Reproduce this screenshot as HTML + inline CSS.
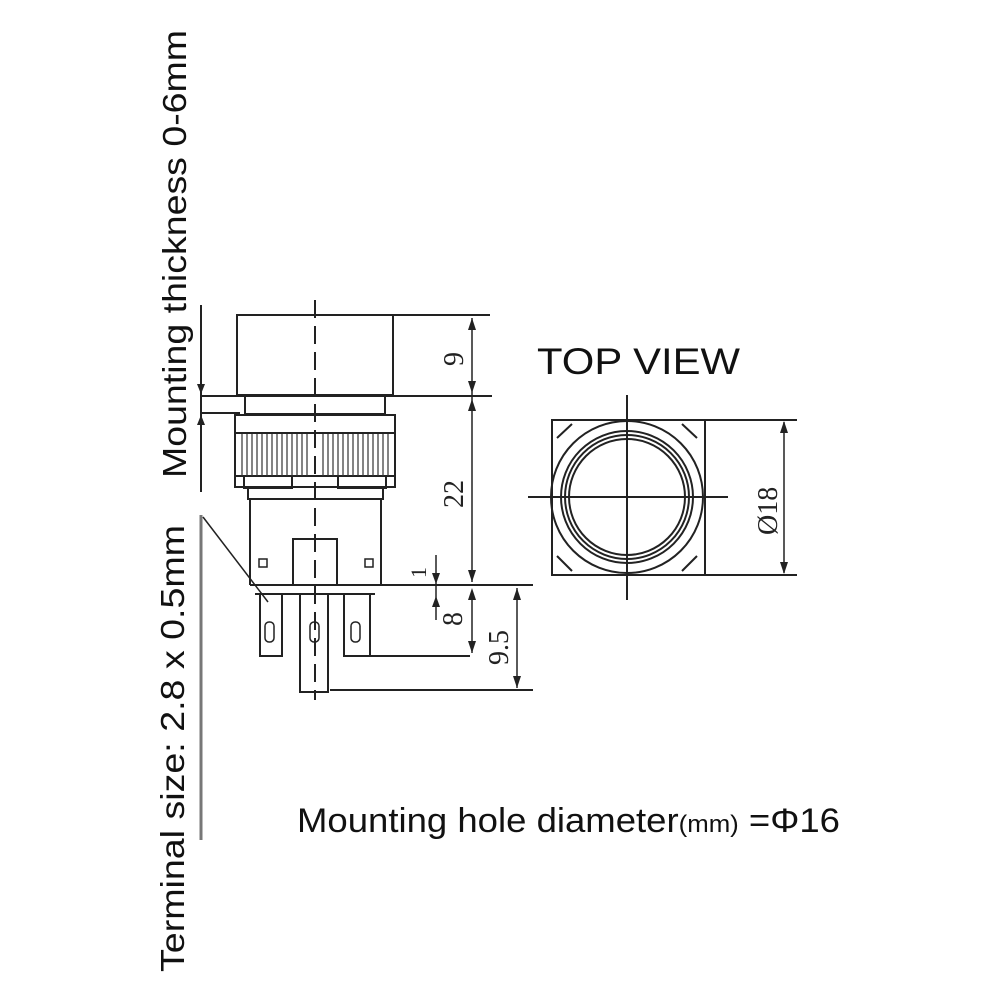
<!DOCTYPE html>
<html><head><style>html,body{margin:0;padding:0;background:#fff;}svg{display:block}</style></head>
<body>
<svg width="1000" height="1000" viewBox="0 0 1000 1000" xmlns="http://www.w3.org/2000/svg" font-family="Liberation Sans, sans-serif">
<rect width="1000" height="1000" fill="#fff"/>
<text transform="translate(186,478) rotate(-90)" font-size="33" textLength="448" lengthAdjust="spacingAndGlyphs" fill="#111">Mounting thickness 0-6mm</text>
<text transform="translate(184,972) rotate(-90)" font-size="33" textLength="447" lengthAdjust="spacingAndGlyphs" fill="#111">Terminal size: 2.8 x 0.5mm</text>
<g stroke="#222" stroke-width="2" fill="none">
<line x1="201" y1="305" x2="201" y2="492"/>
<line x1="200" y1="396" x2="240" y2="396"/>
<line x1="200" y1="413" x2="240" y2="413"/>
<line x1="201" y1="515" x2="201" y2="840" stroke="#777" stroke-width="3"/>
<line x1="203" y1="517" x2="268" y2="602" stroke-width="1.5"/>
<rect x="237" y="315" width="156" height="80"/>
<line x1="393" y1="315" x2="490" y2="315"/>
<line x1="240" y1="396" x2="492" y2="396"/>
<rect x="245" y="396" width="140" height="18"/>
<rect x="235" y="415" width="160" height="72"/>
<line x1="235" y1="433" x2="395" y2="433"/>
<line x1="235" y1="476" x2="395" y2="476"/>
<rect x="244" y="476" width="48" height="12"/>
<rect x="338" y="476" width="48" height="12"/>
<rect x="248" y="487" width="135" height="12"/>
<line x1="250" y1="499" x2="250" y2="585"/>
<line x1="381" y1="499" x2="381" y2="585"/>
<rect x="293" y="539" width="44" height="46"/>
<rect x="259" y="559" width="8" height="8" stroke-width="1.5"/>
<rect x="365" y="559" width="8" height="8" stroke-width="1.5"/>
<line x1="250" y1="585" x2="533" y2="585"/>
<line x1="255" y1="594" x2="375" y2="594"/>
<rect x="260" y="594" width="22" height="62"/>
<rect x="344" y="594" width="26" height="62"/>
<rect x="300" y="594" width="28" height="98"/>
<line x1="355" y1="656" x2="470" y2="656"/>
<line x1="330" y1="690" x2="533" y2="690"/>
<rect x="265" y="622" width="9" height="20" rx="4" stroke-width="1.5"/>
<rect x="351" y="622" width="9" height="20" rx="4" stroke-width="1.5"/>
<rect x="310" y="622" width="9" height="20" rx="4" stroke-width="1.5"/>
<line x1="315" y1="300" x2="315" y2="700" stroke-dasharray="18,8"/>
<line x1="472" y1="318" x2="472" y2="582" stroke-width="1.5"/>
<line x1="436" y1="555" x2="436" y2="620" stroke-width="1.5"/>
<line x1="517" y1="588" x2="517" y2="688" stroke-width="1.5"/>
</g>
<g stroke="#333" stroke-width="1.2">
<path d="M242 434V476M247 434V476M252 434V476M257 434V476M262 434V476M267 434V476M272 434V476M277 434V476M282 434V476M287 434V476M292 434V476M297 434V476M302 434V476M307 434V476M323 434V476M328 434V476M333 434V476M338 434V476M343 434V476M348 434V476M353 434V476M358 434V476M363 434V476M368 434V476M373 434V476M378 434V476M383 434V476M388 434V476"/>
</g>
<g fill="#222">
<polygon points="472,318 468,330 476,330"/><polygon points="472,393 468,381 476,381"/>
<polygon points="472,399 468,411 476,411"/><polygon points="472,582 468,570 476,570"/>
<polygon points="472,588 468,600 476,600"/><polygon points="472,653 468,641 476,641"/>
<polygon points="517,588 513,600 521,600"/><polygon points="517,688 513,676 521,676"/>
<polygon points="436,584 432,573 440,573"/><polygon points="436,596 432,607 440,607"/>
<polygon points="201,394 197,384 205,384"/><polygon points="201,415 197,425 205,425"/>
</g>
<line x1="472" y1="599" x2="472" y2="653" stroke="#222" stroke-width="1.5"/>
<g font-family="Liberation Serif, serif" font-size="28" fill="#222">
<text transform="translate(463,366) rotate(-90)">9</text>
<text transform="translate(463,508) rotate(-90)">22</text>
<text transform="translate(426,578) rotate(-90)" font-size="22">1</text>
<text transform="translate(462,626) rotate(-90)">8</text>
<text transform="translate(508,665) rotate(-90)">9.5</text>
<text transform="translate(777,535) rotate(-90)">Ø18</text>
</g>
<text x="537" y="374" font-size="37" textLength="203" lengthAdjust="spacingAndGlyphs" fill="#111">TOP VIEW</text>
<g stroke="#222" stroke-width="2" fill="none">
<rect x="552" y="420" width="153" height="155"/>
<circle cx="627" cy="497" r="76"/>
<circle cx="627" cy="497" r="66"/>
<circle cx="627" cy="497" r="62"/>
<circle cx="627" cy="497" r="58"/>
<line x1="627" y1="395" x2="627" y2="600"/>
<line x1="528" y1="497" x2="728" y2="497"/>
<line x1="705" y1="420" x2="797" y2="420"/>
<line x1="705" y1="575" x2="797" y2="575"/>
<line x1="784" y1="422" x2="784" y2="573" stroke-width="1.5"/>
<line x1="557" y1="438" x2="572" y2="424"/><line x1="697" y1="438" x2="682" y2="424"/>
<line x1="557" y1="556" x2="572" y2="571"/><line x1="697" y1="556" x2="682" y2="571"/>
</g>
<polygon points="784,421 780,433 788,433" fill="#222"/><polygon points="784,574 780,562 788,562" fill="#222"/>
<text x="297" y="832" font-size="34" textLength="543" lengthAdjust="spacingAndGlyphs" fill="#111">Mounting hole diameter<tspan font-size="24">(mm)</tspan> =Φ16</text>
</svg>
</body></html>
